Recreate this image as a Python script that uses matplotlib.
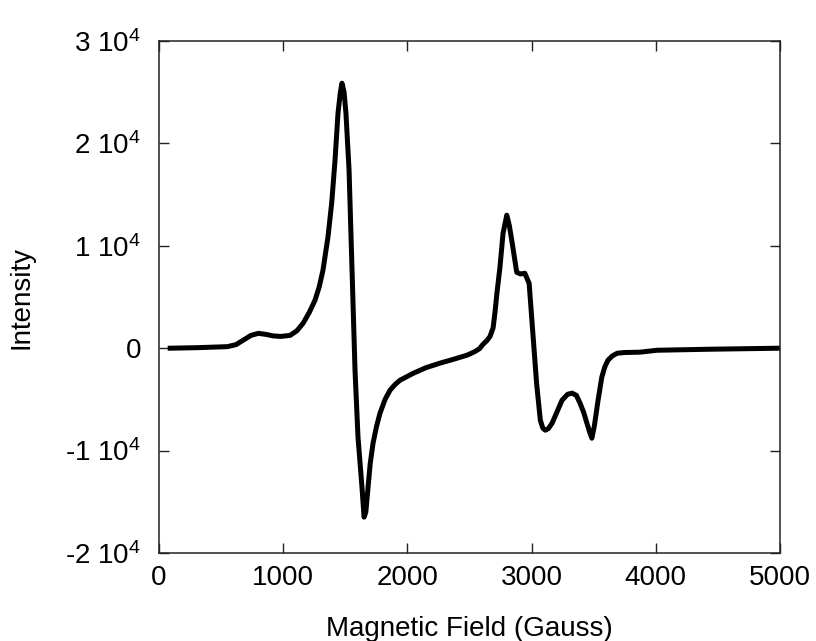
import matplotlib
matplotlib.use("Agg")
import matplotlib.pyplot as plt

plt.rcParams['font.family'] = ['Liberation Sans', 'DejaVu Sans']

# field (Gauss) and intensity
field = [90, 300, 550, 620, 680, 740, 800, 860, 920, 980, 1055, 1110, 1160,
         1210, 1256, 1290, 1320, 1360, 1390, 1417, 1441, 1460, 1473, 1490,
         1505, 1530, 1554, 1578, 1602, 1634, 1651, 1665, 1683, 1700, 1723,
         1750, 1779, 1820, 1860, 1900, 1940, 2045, 2150, 2262, 2380, 2480,
         2540, 2580, 2610, 2640, 2665, 2690, 2705, 2720, 2745, 2770, 2800,
         2820, 2840, 2880, 2910, 2945, 2980, 3010, 3040, 3070, 3090, 3110,
         3135, 3165, 3205, 3245, 3290, 3325, 3360, 3390, 3420, 3445, 3470,
         3485, 3505, 3535, 3565, 3590, 3615, 3650, 3690, 3750, 3870, 4010,
         4435, 5000]
intensity = [0, 50, 150, 350, 800, 1250, 1450, 1350, 1200, 1150, 1250, 1700,
             2440, 3500, 4690, 6000, 7620, 10840, 14160, 18360, 22950, 25000,
             25880, 25000, 22950, 17400, 7620, -2150, -8690, -13570, -16500,
             -16000, -13570, -11300, -9280, -7700, -6350, -5000, -4100, -3550,
             -3130, -2460, -1900, -1460, -1050, -680, -350, -50, 400, 750,
             1150, 2000, 3500, 5300, 7910, 11230, 12990, 12000, 10540, 7420,
             7250, 7320, 6340, 1460, -3420, -7030, -7800, -8010, -7850, -7320,
             -6200, -5080, -4500, -4390, -4600, -5370, -6300, -7320, -8300,
             -8790, -7600, -5080, -2830, -1800, -1170, -750, -490, -420, -390,
             -200, -100, 0]

yticks = [-20000, -10000, 0, 10000, 20000, 30000]
ytick_labels = ['-2 $\\mathregular{10^4}$', '-1 $\\mathregular{10^4}$', '0',
                '1 $\\mathregular{10^4}$', '2 $\\mathregular{10^4}$', '3 $\\mathregular{10^4}$']
xticks = [0, 1000, 2000, 3000, 4000, 5000]

fig = plt.figure(figsize=(8.16, 6.41), dpi=100)
ax = fig.add_axes([0.1949, 0.1373, 0.9559 - 0.1949, 0.936 - 0.1373])
ax.plot(field, intensity, color='black', lw=3.6, solid_joinstyle='round')

ax.set_xlim(0, 5000)
ax.set_ylim(-20000, 30000)
ax.set_xticks(xticks)
ax.set_yticks(yticks)
ax.set_yticklabels(ytick_labels)
ax.tick_params(direction='in', length=7, width=1, top=True, right=True,
               labelsize=20, color='#222222')
ax.tick_params(axis='y', pad=13)
ax.tick_params(axis='x', pad=9)
for s in ax.spines.values():
    s.set_linewidth(1.1)
    s.set_color('#222222')

ax.set_xlabel('Magnetic Field (Gauss)', fontsize=20, labelpad=18)
ax.set_ylabel('Intensity', fontsize=20, labelpad=22)

fig.savefig('out.png', dpi=100)
